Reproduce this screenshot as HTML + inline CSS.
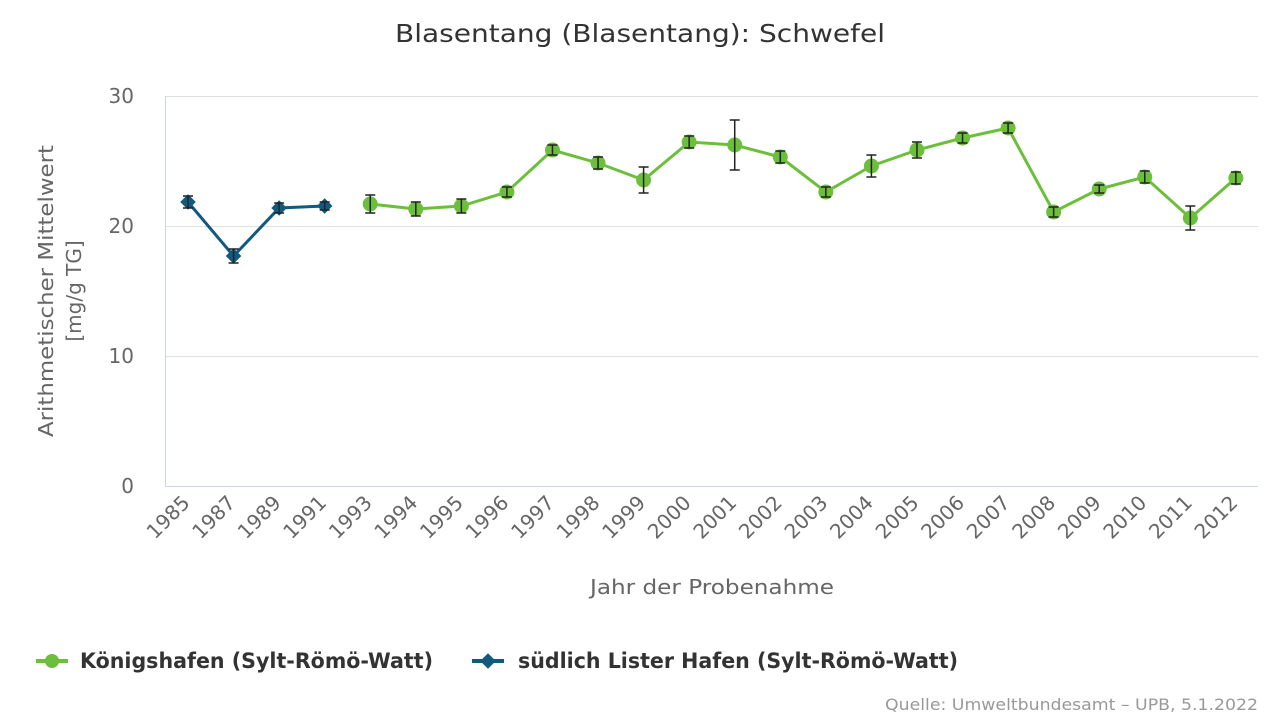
<!DOCTYPE html>
<html><head><meta charset="utf-8"><style>
html,body{margin:0;padding:0;background:#fff;width:1280px;height:720px;overflow:hidden}
svg{font-family:"DejaVu Sans","Liberation Sans",sans-serif}
</style></head><body>
<svg id="c" width="1280" height="720" xmlns="http://www.w3.org/2000/svg">
<text x="640" y="42" text-anchor="middle" font-size="25" fill="#333" textLength="490" lengthAdjust="spacingAndGlyphs">Blasentang (Blasentang): Schwefel</text>
<g stroke="#e0e0e0" stroke-width="1">
<line x1="165" y1="96.5" x2="1258" y2="96.5"/>
<line x1="165" y1="226.5" x2="1258" y2="226.5"/>
<line x1="165" y1="356.5" x2="1258" y2="356.5"/>
</g>
<line x1="165" y1="486.5" x2="1258" y2="486.5" stroke="#ccd6eb"/>
<line x1="165.5" y1="96" x2="165.5" y2="487" stroke="#ccd6eb"/>
<g font-size="20" fill="#666" text-anchor="end">
<text x="134" y="103">30</text><text x="134" y="233">20</text><text x="134" y="363">10</text><text x="134" y="493">0</text>
</g>
<text transform="translate(53,291) rotate(-90)" text-anchor="middle" font-size="20" fill="#666" textLength="292" lengthAdjust="spacingAndGlyphs">Arithmetischer Mittelwert</text>
<text transform="translate(81,291) rotate(-90)" text-anchor="middle" font-size="20" fill="#666">[mg/g TG]</text>
<text x="712" y="594" text-anchor="middle" font-size="20" fill="#666" textLength="244" lengthAdjust="spacingAndGlyphs">Jahr der Probenahme</text>
<g id="xl" font-size="20" fill="#666"></g>
<g id="series"></g>
<line x1="36" y1="661" x2="68" y2="661" stroke="#6bbf3a" stroke-width="4"/>
<circle cx="52" cy="661" r="7" fill="#6bbf3a"/>
<text x="80" y="668" font-size="21" font-weight="bold" fill="#333" textLength="353" lengthAdjust="spacingAndGlyphs">Königshafen (Sylt-Römö-Watt)</text>
<line x1="472" y1="661" x2="504" y2="661" stroke="#0f5a7e" stroke-width="4"/>
<rect x="482.5" y="655.5" width="11" height="11" fill="#0f5a7e" transform="rotate(45 488 661)"/>
<text x="518" y="668" font-size="21" font-weight="bold" fill="#333" textLength="440" lengthAdjust="spacingAndGlyphs">südlich Lister Hafen (Sylt-Römö-Watt)</text>
<text x="1258" y="710" text-anchor="end" font-size="16" fill="#999" textLength="373" lengthAdjust="spacingAndGlyphs">Quelle: Umweltbundesamt – UPB, 5.1.2022</text>
</svg>
<script>
var years=["1985","1987","1989","1991"];for(var y=1993;y<=2012;y++)years.push(""+y);
var ys=[202,256,208,206,204,209,206,192,150,163,180,142,145,157,192,166,150,138,128,212,189,177,218,178];
var eh=[6,7,5,4,9,7,7,5,5,6,13,6,25,6,5,11,8,5,5,5,4,6,12,6];
function X(i){return 188+i*45.56;}
var xl=document.getElementById("xl"),s=document.getElementById("series");
var h="";
years.forEach(function(t,i){var x=X(i)+3;h+='<text transform="translate('+x+',504) rotate(-45)" text-anchor="end">'+t+'</text>';});
xl.innerHTML=h;
var o="";
function path(a,b){var d="";for(var i=a;i<=b;i++)d+=(i==a?"M":"L")+X(i)+" "+ys[i];return d;}
o+='<path d="'+path(0,3)+'" fill="none" stroke="#0f5a7e" stroke-width="3"/>';
o+='<path d="'+path(4,23)+'" fill="none" stroke="#6bbf3a" stroke-width="3"/>';
for(var i=0;i<24;i++){var x=X(i),y=ys[i];
 if(i<4)o+='<rect x="'+(x-5.5)+'" y="'+(y-5.5)+'" width="11" height="11" fill="#0f5a7e" transform="rotate(45 '+x+' '+y+')"/>';
 else o+='<circle cx="'+x+'" cy="'+y+'" r="7.5" fill="#6bbf3a"/>';}
for(var i=0;i<24;i++){var x=X(i),y=ys[i],e=eh[i];
 o+='<path d="M'+x+' '+(y-e)+'V'+(y+e)+'M'+(x-5)+' '+(y-e)+'H'+(x+5)+'M'+(x-5)+' '+(y+e)+'H'+(x+5)+'" stroke="#222" stroke-width="1.5" fill="none"/>';}
s.innerHTML=o;
</script>
</body></html>
